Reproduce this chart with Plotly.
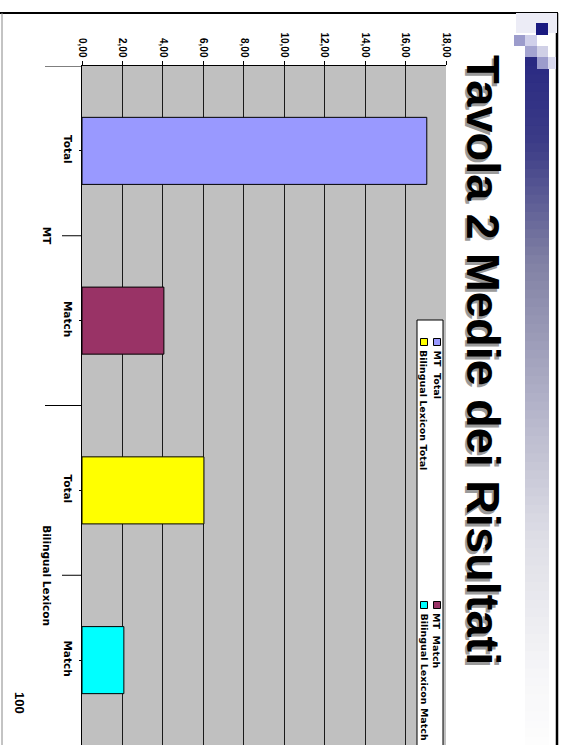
import plotly.graph_objects as go

# ---------------- data ----------------
categories = ["MT Total", "MT Match", "Bilingual Lexicon Total", "Bilingual Lexicon Match"]
tick_labels = ["Total", "Match", "Total", "Match"]
groups = ["MT", "Bilingual Lexicon"]
series_names = ["MT  Total", "MT  Match", "Bilingual Lexicon Total", "Bilingual Lexicon Match"]
values = [17.05, 4.05, 6.03, 2.07]
colors = ["#9999ff", "#993366", "#ffff00", "#00ffff"]
title = "Tavola 2 Medie dei Risultati"
page_number = "100"

W, H = 564, 745


def px(x):
    return x / W


def py(y):
    return 1 - y / H


fig = go.Figure()
for cat, name, val, col in zip(categories, series_names, values, colors):
    fig.add_trace(go.Bar(
        y=[cat], x=[val], name=name, orientation="h",
        marker=dict(color=col, line=dict(color="#000000", width=1)),
        width=0.395, showlegend=False,
    ))

shapes = []
annotations = []

# slide border
shapes.append(dict(type="line", xref="paper", yref="paper", x0=px(0), x1=px(558), y0=py(13), y1=py(13),
                   line=dict(color="#000000", width=2)))
shapes.append(dict(type="line", xref="paper", yref="paper", x0=px(557), x1=px(557), y0=py(13), y1=py(746),
                   line=dict(color="#000000", width=2.5)))
shapes.append(dict(type="line", xref="paper", yref="paper", x0=px(2), x1=px(2), y0=py(13), y1=py(746),
                   line=dict(color="#888888", width=1)))

# decorative gradient bar
stops = [(0.0, (42, 42, 130)), (0.12, (60, 60, 135)), (0.3, (130, 130, 165)), (0.5, (178, 178, 200)),
         (0.7, (222, 222, 230)), (0.9, (246, 246, 248)), (1.0, (253, 253, 253))]


def grad(t):
    for (ta, ca), (tb, cb) in zip(stops[:-1], stops[1:]):
        if t <= tb:
            f = (t - ta) / (tb - ta)
            return tuple(int(round(ca[k] + (cb[k] - ca[k]) * f)) for k in range(3))
    return stops[-1][1]


n = 80
top, bot = 57, 746
for i in range(n):
    t = i / (n - 1)
    c = grad(t)
    ya = top + (bot - top) * i / n
    yb = top + (bot - top) * (i + 1) / n + 1.5
    shapes.append(dict(type="rect", xref="paper", yref="paper", x0=px(525), x1=px(549), y0=py(ya), y1=py(yb),
                       fillcolor="rgb(%d,%d,%d)" % c, line=dict(width=0), layer="below"))
# decorative squares
sq = [
    (516, 13, 557, 33, "#ececf6"),
    (536, 23, 548, 35, "#1a1a80"),
    (514, 35, 525, 46, "#9c9ccc"),
    (525, 35, 537, 46, "#d0d0ea"),
    (525, 46, 537, 57, "#a4a4d0"),
    (537, 46, 548, 57, "#d0d0e6"),
    (537, 57, 548, 69, "#9c9ccc"),
    (548, 57, 556, 69, "#d8d8ee"),
]
for x0, y0, x1, y1, c in sq:
    shapes.append(dict(type="rect", xref="paper", yref="paper", x0=px(x0), x1=px(x1), y0=py(y0), y1=py(y1),
                       fillcolor=c, line=dict(width=0)))

# category dividers (multi-level axis)
for pos, x_left in [(-0.5, 45), (0.5, 62), (1.5, 45), (2.5, 62)]:
    shapes.append(dict(type="line", xref="paper", yref="y", x0=px(x_left), x1=px(82), y0=pos, y1=pos,
                       line=dict(color="#000000", width=1)))

# group labels
for g, pos in zip(groups, [0.5, 2.5]):
    annotations.append(dict(text="<b>" + g + "</b>", xref="paper", yref="y", x=px(47), y=pos, showarrow=False,
                            textangle=90, font=dict(family="DejaVu Sans", size=10.5, color="#000000"),
                            xanchor="center", yanchor="middle"))

# legend (rotated, drawn manually)
shapes.append(dict(type="rect", xref="paper", yref="paper", x0=px(417), x1=px(443), y0=py(320), y1=py(760),
                   fillcolor="#ffffff", line=dict(color="#000000", width=1)))
leg_pos = [(437, 342), (437, 605), (424, 342), (424, 605)]
for (lx, ly), name, col in zip(leg_pos, series_names, colors):
    shapes.append(dict(type="rect", xref="paper", yref="paper", x0=px(lx - 3.5), x1=px(lx + 3.5),
                       y0=py(ly - 3.5), y1=py(ly + 3.5), fillcolor=col, line=dict(color="#000000", width=1)))
    annotations.append(dict(text="<b>" + name + "</b>", xref="paper", yref="paper", x=px(lx), y=py(ly + 6),
                            showarrow=False, textangle=90, xanchor="center", yanchor="top",
                            font=dict(family="DejaVu Sans", size=9.5, color="#000000")))

# title with shadow
annotations.append(dict(text="<b>" + title + "</b>", xref="paper", yref="paper", x=px(481.5), y=py(362.5),
                        showarrow=False, textangle=90, xanchor="center", yanchor="middle",
                        font=dict(family="Liberation Sans", size=47, color="#9a9a9a")))
annotations.append(dict(text="<b>" + title + "</b>", xref="paper", yref="paper", x=px(484), y=py(360),
                        showarrow=False, textangle=90, xanchor="center", yanchor="middle",
                        font=dict(family="Liberation Sans", size=47, color="#000000")))

# page number
annotations.append(dict(text="<b>" + page_number + "</b>", xref="paper", yref="paper", x=px(20), y=py(703),
                        showarrow=False, textangle=90, xanchor="center", yanchor="middle",
                        font=dict(family="Liberation Sans", size=13, color="#000000")))

fig.update_layout(
    width=W, height=H, autosize=False,
    margin=dict(l=0, r=0, t=0, b=0, pad=0),
    paper_bgcolor="#ffffff", plot_bgcolor="#c0c0c0",
    separators=",.",
    barmode="overlay",
    shapes=shapes, annotations=annotations,
    showlegend=False,
    xaxis=dict(
        domain=[px(82), px(446)], range=[0, 18], side="top", dtick=2, tick0=0, automargin=False,
        tickformat=".2f", tickangle=90, ticks="outside", ticklen=4, tickcolor="#000000",
        showline=True, linecolor="#000000", linewidth=1,
        showgrid=True, gridcolor="#1a1a1a", gridwidth=1, zeroline=False,
        tickfont=dict(family="Liberation Sans", size=10, color="#000000"),
        tickprefix="<b>", ticksuffix="</b>",
        fixedrange=True,
    ),
    yaxis=dict(
        domain=[0, py(66)], range=[3.5, -0.5], type="category", automargin=False,
        categoryorder="array", categoryarray=categories,
        tickvals=categories, ticktext=["<b>%s</b>" % t for t in tick_labels],
        tickangle=90, ticks="outside", ticklen=2, tickcolor="#000000", ticklabelstandoff=2,
        showline=True, linecolor="#000000", linewidth=1, showgrid=False, zeroline=False,
        tickfont=dict(family="DejaVu Sans", size=10.5, color="#000000"),
        fixedrange=True,
    ),
)

fig.write_html("out.html", config={"displayModeBar": False},
               post_script="document.body.style.margin='0';document.body.style.overflow='hidden';")
